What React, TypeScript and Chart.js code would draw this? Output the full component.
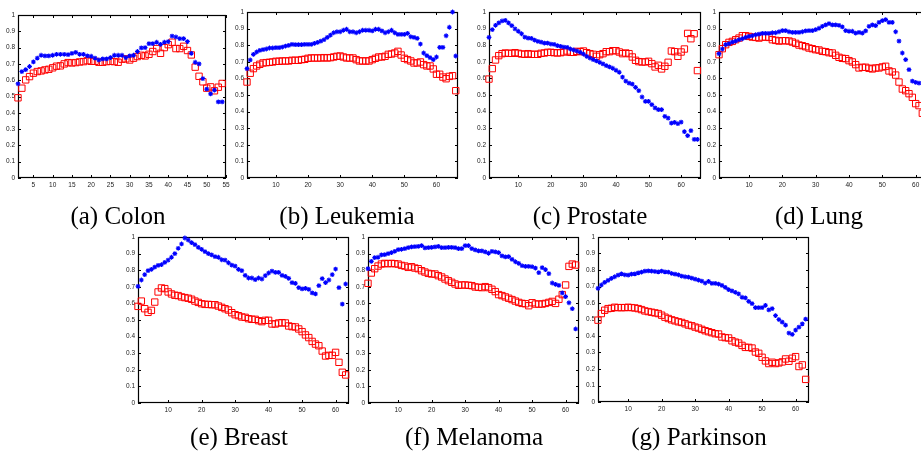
import React, { useEffect, useRef } from "react";
import { Chart, registerables } from "chart.js";
Chart.register(...registerables);

// ---------- data (x = 1..n) ----------
const colonBlue = [0.578,0.653,0.665,0.684,0.712,0.735,0.753,0.749,0.749,0.753,0.759,0.759,0.759,0.757,0.765,0.771,0.759,0.759,0.749,0.747,0.735,0.724,0.731,0.731,0.739,0.753,0.753,0.753,0.739,0.749,0.753,0.776,0.798,0.8,0.824,0.824,0.833,0.82,0.833,0.837,0.871,0.865,0.855,0.855,0.837,0.765,0.71,0.7,0.61,0.545,0.516,0.539,0.467,0.467];
const colonRed = [0.492,0.551,0.602,0.622,0.643,0.653,0.657,0.663,0.667,0.676,0.686,0.688,0.7,0.708,0.706,0.708,0.712,0.714,0.72,0.716,0.716,0.71,0.71,0.714,0.716,0.714,0.71,0.729,0.731,0.724,0.735,0.745,0.753,0.749,0.759,0.776,0.794,0.765,0.8,0.818,0.833,0.794,0.794,0.808,0.782,0.755,0.68,0.624,0.59,0.551,0.559,0.535,0.557,0.58];

const leukBlue = [0.659,0.711,0.745,0.759,0.769,0.773,0.777,0.783,0.783,0.785,0.785,0.789,0.795,0.799,0.805,0.803,0.803,0.803,0.805,0.805,0.805,0.811,0.817,0.825,0.833,0.847,0.861,0.875,0.881,0.881,0.89,0.896,0.881,0.881,0.875,0.881,0.89,0.89,0.89,0.886,0.896,0.896,0.886,0.875,0.881,0.89,0.875,0.865,0.865,0.865,0.871,0.851,0.847,0.841,0.807,0.753,0.737,0.725,0.713,0.729,0.787,0.787,0.857,0.908,1.0,0.735];
const leukRed = [0.578,0.631,0.659,0.675,0.685,0.693,0.695,0.697,0.699,0.703,0.703,0.705,0.705,0.705,0.709,0.709,0.709,0.713,0.715,0.721,0.723,0.723,0.723,0.723,0.725,0.723,0.725,0.729,0.733,0.735,0.729,0.723,0.723,0.723,0.713,0.705,0.705,0.705,0.705,0.713,0.721,0.729,0.729,0.733,0.745,0.747,0.753,0.763,0.741,0.721,0.713,0.705,0.693,0.693,0.699,0.683,0.675,0.675,0.657,0.625,0.625,0.608,0.598,0.612,0.616,0.526];

const prosBlue = [0.847,0.894,0.92,0.934,0.946,0.95,0.934,0.918,0.898,0.884,0.869,0.849,0.843,0.841,0.831,0.823,0.819,0.813,0.813,0.807,0.805,0.797,0.793,0.789,0.787,0.777,0.771,0.765,0.757,0.747,0.733,0.723,0.713,0.705,0.697,0.687,0.677,0.669,0.661,0.649,0.637,0.608,0.584,0.572,0.566,0.546,0.526,0.488,0.462,0.462,0.442,0.422,0.412,0.412,0.371,0.361,0.331,0.335,0.327,0.337,0.279,0.255,0.285,0.233,0.233];
const prosRed = [0.596,0.659,0.711,0.737,0.749,0.753,0.751,0.751,0.755,0.751,0.747,0.745,0.749,0.745,0.745,0.745,0.751,0.753,0.757,0.757,0.755,0.753,0.755,0.759,0.765,0.757,0.757,0.763,0.761,0.765,0.755,0.749,0.745,0.733,0.743,0.749,0.761,0.761,0.767,0.767,0.759,0.749,0.753,0.749,0.729,0.709,0.701,0.699,0.699,0.703,0.689,0.669,0.679,0.657,0.673,0.697,0.765,0.761,0.733,0.759,0.777,0.871,0.839,0.869,0.647];

const lungBlue = [0.749,0.777,0.803,0.809,0.819,0.825,0.833,0.839,0.847,0.853,0.857,0.863,0.867,0.871,0.871,0.871,0.875,0.875,0.881,0.888,0.888,0.881,0.877,0.877,0.877,0.881,0.886,0.888,0.888,0.894,0.902,0.914,0.922,0.93,0.922,0.922,0.92,0.91,0.888,0.884,0.884,0.873,0.877,0.873,0.886,0.914,0.922,0.918,0.938,0.948,0.954,0.938,0.938,0.881,0.825,0.753,0.713,0.653,0.584,0.576,0.572];
const lungRed = [0.743,0.779,0.803,0.817,0.823,0.833,0.843,0.857,0.857,0.853,0.849,0.847,0.843,0.849,0.849,0.847,0.833,0.829,0.825,0.827,0.827,0.825,0.819,0.811,0.801,0.797,0.791,0.783,0.779,0.773,0.771,0.763,0.761,0.755,0.753,0.739,0.727,0.721,0.719,0.707,0.699,0.683,0.663,0.667,0.667,0.661,0.657,0.663,0.663,0.669,0.673,0.645,0.639,0.62,0.578,0.536,0.526,0.508,0.486,0.448,0.436,0.39];

const breastBlue = [0.703,0.741,0.773,0.797,0.805,0.819,0.829,0.833,0.847,0.861,0.878,0.9,0.932,0.958,0.994,0.982,0.966,0.954,0.938,0.926,0.912,0.9,0.892,0.882,0.878,0.863,0.861,0.845,0.831,0.825,0.805,0.797,0.769,0.753,0.753,0.743,0.753,0.747,0.767,0.783,0.795,0.787,0.787,0.769,0.763,0.751,0.725,0.721,0.695,0.687,0.691,0.685,0.663,0.657,0.707,0.749,0.725,0.741,0.773,0.807,0.695,0.596,0.717];
const breastRed = [0.582,0.614,0.568,0.546,0.558,0.608,0.669,0.693,0.689,0.669,0.657,0.649,0.647,0.639,0.635,0.631,0.625,0.614,0.606,0.598,0.594,0.594,0.592,0.592,0.584,0.576,0.568,0.56,0.544,0.532,0.526,0.518,0.516,0.508,0.504,0.504,0.496,0.49,0.498,0.498,0.476,0.476,0.482,0.484,0.482,0.464,0.46,0.458,0.446,0.43,0.41,0.394,0.371,0.355,0.345,0.313,0.283,0.287,0.287,0.305,0.245,0.185,0.169];

const melBlue = [0.809,0.853,0.876,0.878,0.892,0.894,0.9,0.906,0.914,0.924,0.926,0.93,0.936,0.94,0.942,0.944,0.948,0.934,0.936,0.938,0.94,0.944,0.936,0.936,0.938,0.938,0.936,0.93,0.93,0.948,0.948,0.93,0.922,0.916,0.916,0.91,0.902,0.914,0.91,0.906,0.886,0.88,0.882,0.865,0.851,0.841,0.827,0.823,0.823,0.821,0.813,0.785,0.815,0.803,0.779,0.723,0.715,0.709,0.663,0.641,0.604,0.568,0.446];
const melRed = [0.721,0.783,0.809,0.825,0.837,0.841,0.839,0.841,0.839,0.837,0.829,0.825,0.817,0.821,0.813,0.809,0.797,0.789,0.781,0.777,0.777,0.767,0.759,0.747,0.737,0.727,0.717,0.709,0.711,0.711,0.709,0.707,0.699,0.697,0.695,0.701,0.695,0.685,0.671,0.653,0.647,0.639,0.631,0.623,0.614,0.606,0.6,0.598,0.586,0.604,0.596,0.596,0.596,0.6,0.606,0.612,0.6,0.625,0.653,0.711,0.823,0.837,0.831];

const parkBlue = [0.689,0.709,0.725,0.737,0.749,0.759,0.769,0.777,0.771,0.769,0.775,0.777,0.783,0.787,0.793,0.795,0.793,0.791,0.789,0.793,0.789,0.787,0.779,0.775,0.771,0.763,0.759,0.757,0.751,0.745,0.739,0.733,0.721,0.731,0.719,0.719,0.715,0.707,0.695,0.681,0.673,0.665,0.655,0.635,0.631,0.61,0.596,0.572,0.572,0.572,0.586,0.558,0.566,0.524,0.5,0.484,0.466,0.418,0.41,0.436,0.454,0.474,0.502];
const parkRed = [0.496,0.536,0.556,0.566,0.568,0.574,0.572,0.572,0.572,0.574,0.572,0.57,0.566,0.56,0.552,0.548,0.544,0.54,0.536,0.526,0.514,0.506,0.498,0.492,0.486,0.482,0.474,0.466,0.462,0.454,0.448,0.44,0.432,0.426,0.42,0.414,0.412,0.394,0.39,0.388,0.371,0.363,0.357,0.343,0.331,0.331,0.327,0.303,0.295,0.271,0.249,0.233,0.241,0.233,0.237,0.243,0.261,0.247,0.265,0.275,0.215,0.225,0.137];

const yTicks = [0, 0.1, 0.2, 0.3, 0.4, 0.5, 0.6, 0.7, 0.8, 0.9, 1];
const xTicksColon = [5, 10, 15, 20, 25, 30, 35, 40, 45, 50, 55];
const xTicksWide = [10, 20, 30, 40, 50, 60];

const captions = ["(a) Colon", "(b) Leukemia", "(c) Prostate", "(d) Lung", "(e) Breast", "(f) Melanoma", "(g) Parkinson"];

// ---------- layout ----------
type Panel = {
  blue: number[]; red: number[]; xMax: number; xTicks: number[];
  L: number; T: number; W: number; H: number; caption: string; cx: number; by: number;
};

const panels: Panel[] = [
  { blue: colonBlue, red: colonRed, xMax: 55, xTicks: xTicksColon, L: 18, T: 15, W: 208, H: 163, caption: captions[0], cx: 118, by: 224 },
  { blue: leukBlue, red: leukRed, xMax: 66.7, xTicks: xTicksWide, L: 247, T: 12, W: 211, H: 166, caption: captions[1], cx: 347, by: 224 },
  { blue: prosBlue, red: prosRed, xMax: 66.1, xTicks: xTicksWide, L: 489, T: 12, W: 212, H: 166, caption: captions[2], cx: 590, by: 224 },
  { blue: lungBlue, red: lungRed, xMax: 64, xTicks: xTicksWide, L: 719, T: 12, W: 210, H: 166, caption: captions[3], cx: 819, by: 224 },
  { blue: breastBlue, red: breastRed, xMax: 64, xTicks: xTicksWide, L: 138, T: 237, W: 211, H: 166, caption: captions[4], cx: 239, by: 445 },
  { blue: melBlue, red: melRed, xMax: 64, xTicks: xTicksWide, L: 368, T: 237, W: 211, H: 166, caption: captions[5], cx: 474, by: 445 },
  { blue: parkBlue, red: parkRed, xMax: 64, xTicks: xTicksWide, L: 598, T: 237, W: 211, H: 165, caption: captions[6], cx: 699, by: 445 },
];

const PAD_L = 24, PAD_T = 8, PAD_R = 10, PAD_B = 16;

const boxPlugin = {
  id: "matlabBox",
  beforeDatasetsDraw(chart: any) {
    const { ctx, chartArea: a, scales } = chart;
    const xs = scales.x, ys = scales.y;
    const t = 3;
    ctx.save();
    ctx.strokeStyle = "#000";
    ctx.lineWidth = 1;
    ctx.beginPath();
    xs.ticks.forEach((tk: any) => {
      const px = Math.round(xs.getPixelForValue(tk.value)) + 0.5;
      ctx.moveTo(px, a.bottom); ctx.lineTo(px, a.bottom - t);
      ctx.moveTo(px, a.top); ctx.lineTo(px, a.top + t);
    });
    ys.ticks.forEach((tk: any) => {
      const py = Math.round(ys.getPixelForValue(tk.value)) + 0.5;
      ctx.moveTo(a.left, py); ctx.lineTo(a.left + t, py);
      ctx.moveTo(a.right, py); ctx.lineTo(a.right - t, py);
    });
    ctx.stroke();
    ctx.lineWidth = 1.2;
    ctx.strokeRect(a.left + 0.5, a.top + 0.5, a.right - a.left - 1, a.bottom - a.top - 1);
    ctx.restore();
  },
};

const tickFont = { family: "Arial", size: 6.5 };

function PanelChart({ p }: { p: Panel }) {
  const ref = useRef<HTMLCanvasElement | null>(null);
  const cw = p.W + PAD_L + PAD_R;
  const ch = p.H + PAD_T + PAD_B;
  useEffect(() => {
    if (!ref.current) return;
    const chart = new Chart(ref.current, {
      type: "scatter",
      data: {
        datasets: [
          {
            data: p.blue.map((v, i) => ({ x: i + 1, y: v })),
            pointStyle: "star",
            radius: 2.4,
            borderWidth: 1.1,
            borderColor: "rgb(0,0,255)",
            backgroundColor: "rgb(0,0,255)",
            clip: false as any,
          },
          {
            data: p.red.map((v, i) => ({ x: i + 1, y: v })),
            pointStyle: "rect",
            radius: 4.5,
            borderWidth: 1,
            borderColor: "rgb(255,0,0)",
            backgroundColor: "rgba(0,0,0,0)",
            clip: false as any,
          },
        ],
      },
      options: {
        animation: false,
        responsive: false,
        maintainAspectRatio: false,
        events: [],
        layout: { padding: { left: 0, top: PAD_T, right: PAD_R, bottom: 0 } },
        plugins: { legend: { display: false }, tooltip: { enabled: false }, title: { display: false } },
        scales: {
          x: {
            type: "linear",
            min: 1,
            max: p.xMax,
            grid: { display: false, drawTicks: false },
            border: { display: false },
            afterBuildTicks: (s: any) => { s.ticks = p.xTicks.map((v) => ({ value: v })); },
            afterFit: (s: any) => { s.height = PAD_B; },
            ticks: { font: tickFont, color: "#222", padding: 3, maxRotation: 0, autoSkip: false, callback: (v: any) => String(v) },
          },
          y: {
            type: "linear",
            min: 0,
            max: 1,
            grid: { display: false, drawTicks: false },
            border: { display: false },
            afterBuildTicks: (s: any) => { s.ticks = yTicks.map((v) => ({ value: v })); },
            afterFit: (s: any) => { s.width = PAD_L; },
            ticks: {
              font: tickFont, color: "#222", padding: 3, autoSkip: false,
              callback: (v: any) => (v === 0 ? "0" : v === 1 ? "1" : Number(v).toFixed(1)),
            },
          },
        },
      } as any,
      plugins: [boxPlugin],
    });
    return () => chart.destroy();
  }, [p]);
  return (
    <canvas
      ref={ref}
      width={cw}
      height={ch}
      style={{ position: "absolute", left: p.L - PAD_L, top: p.T - PAD_T, width: cw, height: ch }}
    />
  );
}

export default function App() {
  return (
    <div style={{ position: "fixed", left: 0, top: 0, width: 921, height: 451, overflow: "hidden", background: "#fff" }}>
      {panels.map((p, i) => (
        <PanelChart key={"c" + i} p={p} />
      ))}
      <svg width={921} height={451} style={{ position: "absolute", left: 0, top: 0, pointerEvents: "none" }}>
        {panels.map((p, i) => (
          <text
            key={"t" + i}
            x={p.cx}
            y={p.by}
            textAnchor="middle"
            fontFamily="Liberation Serif, Times New Roman, serif"
            fontSize={25}
            fill="#000"
          >
            {p.caption}
          </text>
        ))}
      </svg>
    </div>
  );
}
